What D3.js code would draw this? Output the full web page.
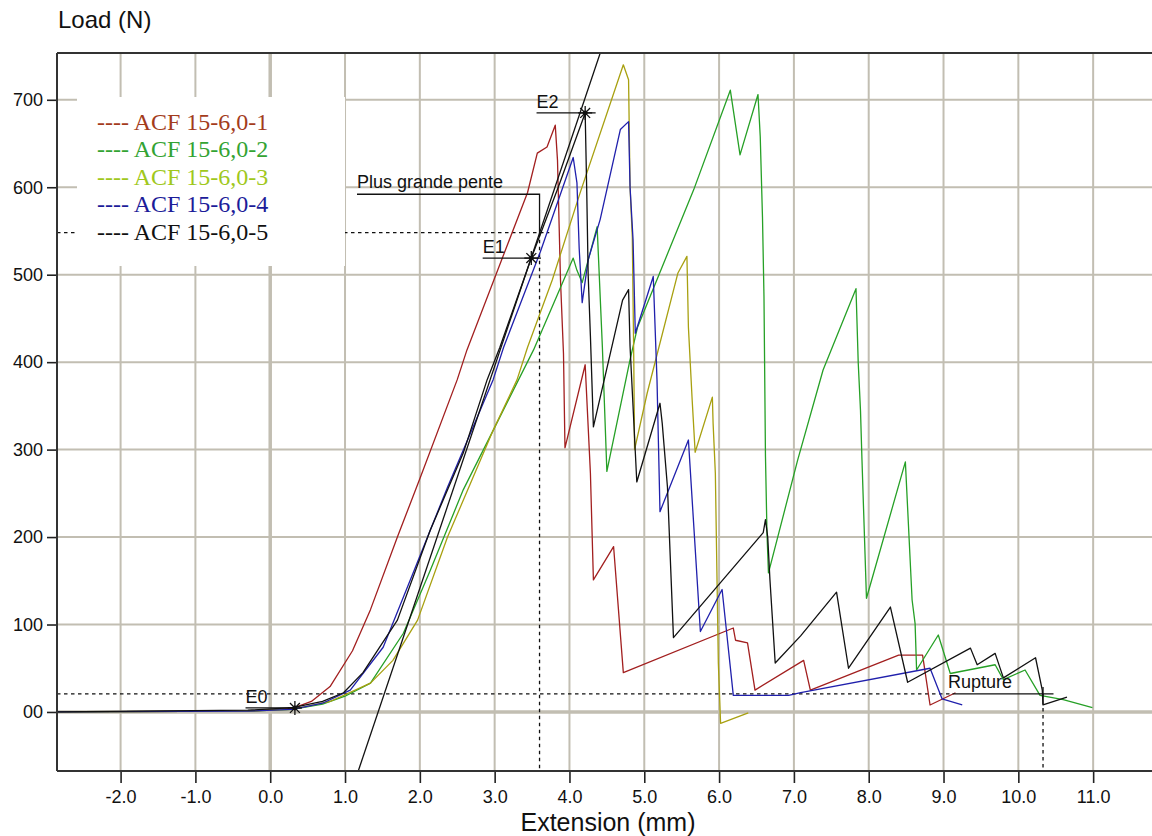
<!DOCTYPE html>
<html>
<head>
<meta charset="utf-8">
<script src="https://cdn.jsdelivr.net/npm/d3@7"></script>
<style>
  body { margin: 0; background: #fff; }
  svg { display: block; }
</style>
</head>
<body>
<div id="chart"></div>
<script>
// series names and colours
var seriesNames = ["ACF 15-6,0-1", "ACF 15-6,0-2", "ACF 15-6,0-3", "ACF 15-6,0-4", "ACF 15-6,0-5"];
var lineColors = ["#a21f1f", "#26a026", "#a8a010", "#2020ac", "#111111"];
var legendColors = ["#a33c1c", "#33a333", "#a0c81c", "#1c1c99", "#111111"];

// extension (mm), load (N)
var s1 = [[-2.85,0],[-0.3,1],[0.3,4],[0.55,12],[0.8,29],[1.1,70],[1.34,117],[1.7,200],[2.01,269],[2.5,380],[2.63,414],[3.44,594],[3.57,639],[3.7,646],[3.81,671],[3.84,631],[3.88,494],[3.92,410],[3.94,302],[4.21,397],[4.28,273],[4.32,151],[4.59,189],[4.72,45],[6.19,96],[6.22,82],[6.38,79],[6.48,25],[7.13,59],[7.22,25],[8.4,65],[8.72,65],[8.82,8],[9.16,22]];
var s2 = [[-2.85,0],[-0.3,1],[0.3,3],[0.7,9],[1.0,18],[1.34,33],[1.78,90],[2.14,162],[2.58,254],[2.98,322],[3.52,414],[4.05,519],[4.1,505],[4.17,491],[4.37,555],[4.44,417],[4.5,275],[4.81,403],[4.91,440],[5.66,597],[6.15,711],[6.28,637],[6.52,706],[6.55,658],[6.58,566],[6.6,475],[6.62,292],[6.64,205],[6.66,159],[7.05,288],[7.39,391],[7.83,484],[7.86,399],[7.89,345],[7.91,288],[7.97,130],[8.49,286],[8.58,128],[8.62,101],[8.64,48],[8.93,88],[9.09,44],[9.69,54],[9.8,37],[10.09,48],[10.29,19],[10.6,14],[10.99,5]];
var s3 = [[-2.85,0],[-0.3,1],[0.3,3],[0.8,12],[1.34,33],[1.64,59],[1.97,105],[2.37,200],[2.98,322],[3.3,380],[3.44,417],[3.77,494],[4.14,593],[4.72,740],[4.79,723],[4.81,600],[4.84,543],[4.86,400],[4.87,300],[5.04,365],[5.45,502],[5.57,521],[5.59,440],[5.64,357],[5.68,297],[5.91,360],[5.92,330],[5.95,273],[5.99,56],[6.02,-13],[6.39,-1]];
var s4 = [[-2.85,0],[-0.3,1],[0.3,3],[0.7,10],[1.07,25],[1.51,74],[1.91,159],[2.37,257],[2.98,380],[3.12,417],[3.61,526],[4.05,634],[4.1,605],[4.13,530],[4.17,468],[4.25,517],[4.41,563],[4.68,666],[4.79,675],[4.81,600],[4.85,540],[4.88,433],[5.12,498],[5.17,380],[5.21,229],[5.59,311],[5.75,92],[6.04,140],[6.19,19],[6.93,19],[7.09,22],[8.82,50],[8.98,15],[9.25,8]];
var s5 = [[-2.85,0],[-0.3,2],[0.3,5],[0.7,12],[0.98,22],[1.24,45],[1.7,105],[2.14,208],[2.58,296],[2.9,380],[3.07,417],[3.49,519],[3.85,600],[4.21,685],[4.23,600],[4.25,500],[4.28,430],[4.32,326],[4.71,471],[4.79,483],[4.81,418],[4.9,263],[5.21,353],[5.24,330],[5.31,257],[5.39,85],[6.59,205],[6.62,220],[6.65,200],[6.68,151],[6.75,56],[7.09,87],[7.57,137],[7.73,50],[8.29,120],[8.52,34],[9.36,73],[9.45,54],[9.69,67],[9.8,39],[10.23,62],[10.32,25],[10.33,8],[10.65,17]];
var allSeries = [s1, s2, s3, s4, s5];

// steepest slope line and markers
var tangent = [[1.1,-87],[4.5,776]];
var markerE0 = [0.33, 4.6], markerE1 = [3.49, 519], markerE2 = [4.21, 685], markerRupture = [10.33, 20.6];
var slopeLevel = 548, slopeX = 3.6, slopeLabelLevel = 592, slopeLabelX = 1.16;

var xTicks = [-2,-1,0,1,2,3,4,5,6,7,8,9,10,11];
var yTicks = [0,100,200,300,400,500,600,700];

var W = 1152, H = 836;
var margin = {left: 57, top: 53, bottom: 771, right: 1153};

var svg = d3.select("#chart").append("svg")
    .attr("width", W)
    .attr("height", H)
    .style("font-family", "'Liberation Sans', Arial, sans-serif");

var x = d3.scaleLinear().domain([-2.85, 11.8]).range([margin.left, margin.right]);
var y = d3.scaleLinear().domain([-67.5, 753.5]).range([margin.bottom, margin.top]);
var xMin = x.domain()[0], yMin = y.domain()[0];

svg.append("clipPath").attr("id", "plot")
  .append("rect").attr("x", margin.left).attr("y", margin.top)
    .attr("width", margin.right - margin.left).attr("height", margin.bottom - margin.top);

// grid
var grid = svg.append("g").attr("stroke", "#c2beb2");
grid.selectAll(".gx").data(xTicks).enter().append("line")
    .attr("x1", d => x(d)).attr("x2", d => x(d))
    .attr("y1", margin.top).attr("y2", margin.bottom)
    .attr("stroke-width", d => d === 0 ? 3.5 : 2);
grid.selectAll(".gy").data(yTicks).enter().append("line")
    .attr("x1", margin.left).attr("x2", margin.right)
    .attr("y1", d => y(d)).attr("y2", d => y(d))
    .attr("stroke-width", d => d === 0 ? 3.5 : 2);

// dashed guides
var guides = svg.append("g").attr("stroke", "#111").attr("stroke-width", 1.3).attr("fill", "none")
    .attr("stroke-dasharray", "3.5,3.5");
guides.append("line")
    .attr("x1", x(xMin)).attr("x2", x(3.73)).attr("y1", y(slopeLevel)).attr("y2", y(slopeLevel));
guides.append("line")
    .attr("x1", x(slopeX)).attr("x2", x(slopeX)).attr("y1", y(slopeLevel)).attr("y2", y(yMin));
guides.append("line")
    .attr("x1", x(xMin)).attr("x2", x(9.12)).attr("y1", y(markerRupture[1])).attr("y2", y(markerRupture[1]));
guides.append("line")
    .attr("x1", x(markerRupture[0])).attr("x2", x(markerRupture[0])).attr("y1", y(markerRupture[1])).attr("y2", y(yMin));

// curves
var line = d3.line().x(d => x(d[0])).y(d => y(d[1]));
var curves = svg.append("g").attr("clip-path", "url(#plot)").attr("fill", "none");
curves.selectAll("path").data(allSeries).enter().append("path")
    .attr("d", line)
    .attr("stroke", (d, i) => lineColors[i])
    .attr("stroke-width", 1.3)
    .attr("stroke-linejoin", "round");
curves.append("path").attr("d", line(tangent)).attr("stroke", "#111").attr("stroke-width", 1.3);

// annotations
var ann = svg.append("g").attr("stroke", "#111").attr("stroke-width", 1.3).attr("fill", "none");
ann.append("path")
    .attr("d", "M" + x(slopeLabelX) + "," + y(slopeLabelLevel) + "H" + x(slopeX) + "V" + y(slopeLevel));
function underline(p, x0, x1) {
  ann.append("line").attr("x1", x(x0)).attr("x2", x(x1)).attr("y1", y(p[1])).attr("y2", y(p[1]));
}
underline(markerE0, -0.33, 0.31);
underline(markerE1, 2.84, 3.62);
underline(markerE2, 3.56, 4.35);
underline(markerRupture, 9.12, 10.47);

function star(p, r) {
  var cx = x(p[0]), cy = y(p[1]);
  [0, 45, 90, 135].forEach(function(a) {
    var dx = r * Math.cos(a * Math.PI / 180), dy = r * Math.sin(a * Math.PI / 180);
    ann.append("line").attr("x1", cx - dx).attr("x2", cx + dx).attr("y1", cy - dy).attr("y2", cy + dy);
  });
  ann.append("circle").attr("cx", cx).attr("cy", cy).attr("r", 1.8).attr("fill", "#111");
}
star(markerE0, 7);
star(markerE1, 7);
star(markerE2, 7);
ann.append("path")
    .attr("d", "M" + x(markerRupture[0]) + "," + (y(markerRupture[1]) - 7) + "v14");

var labels = svg.append("g").attr("font-size", 18).attr("fill", "#111");
labels.append("text").attr("x", x(slopeLabelX)).attr("y", y(slopeLabelLevel) - 6).text("Plus grande pente");
labels.append("text").attr("x", x(2.84)).attr("y", y(markerE1[1]) - 5).text("E1");
labels.append("text").attr("x", x(3.56)).attr("y", y(markerE2[1]) - 5).text("E2");
labels.append("text").attr("x", x(-0.33)).attr("y", y(markerE0[1]) - 5).text("E0");
labels.append("text").attr("x", x(9.06)).attr("y", y(markerRupture[1]) - 6).text("Rupture");

// legend
svg.append("rect").attr("x", 77).attr("y", 97).attr("width", 268).attr("height", 169).attr("fill", "#fff");
svg.append("g").selectAll("text").data(seriesNames).enter().append("text")
    .attr("x", 97)
    .attr("y", (d, i) => 130 + i * 27.4)
    .attr("fill", (d, i) => legendColors[i])
    .style("font-family", "'Liberation Serif', 'Times New Roman', serif")
    .attr("font-size", 24)
    .text(d => "---- " + d);

// axes
var yAxis = svg.append("g")
    .attr("transform", "translate(" + margin.left + ",0)")
    .call(d3.axisLeft(y).tickValues(yTicks).tickSize(10).tickPadding(4).tickFormat(d => d === 0 ? "00" : String(d)));
var xAxis = svg.append("g")
    .attr("transform", "translate(0," + margin.bottom + ")")
    .call(d3.axisBottom(x).tickValues(xTicks).tickSize(12).tickPadding(7).tickFormat(d => d.toFixed(1)));
[xAxis, yAxis].forEach(function(g) {
  g.select(".domain").remove();
  g.selectAll(".tick line").attr("stroke", "#222").attr("stroke-width", 1.6);
  g.selectAll(".tick text").attr("fill", "#111").attr("font-size", 18)
    .style("font-family", "'Liberation Sans', Arial, sans-serif");
});

// frame
var frame = svg.append("g").attr("stroke", "#333").attr("stroke-width", 2);
frame.append("line").attr("x1", margin.left).attr("x2", margin.left).attr("y1", margin.top).attr("y2", margin.bottom);
frame.append("line").attr("x1", margin.left).attr("x2", margin.right).attr("y1", margin.top).attr("y2", margin.top);
frame.append("line").attr("x1", margin.left).attr("x2", margin.right).attr("y1", margin.bottom).attr("y2", margin.bottom);

svg.append("text").attr("x", 58).attr("y", 28).attr("font-size", 24).attr("fill", "#111").text("Load (N)");
svg.append("text").attr("x", 608).attr("y", 831).attr("font-size", 25).attr("fill", "#111")
    .attr("text-anchor", "middle").text("Extension (mm)");
</script>
</body>
</html>
